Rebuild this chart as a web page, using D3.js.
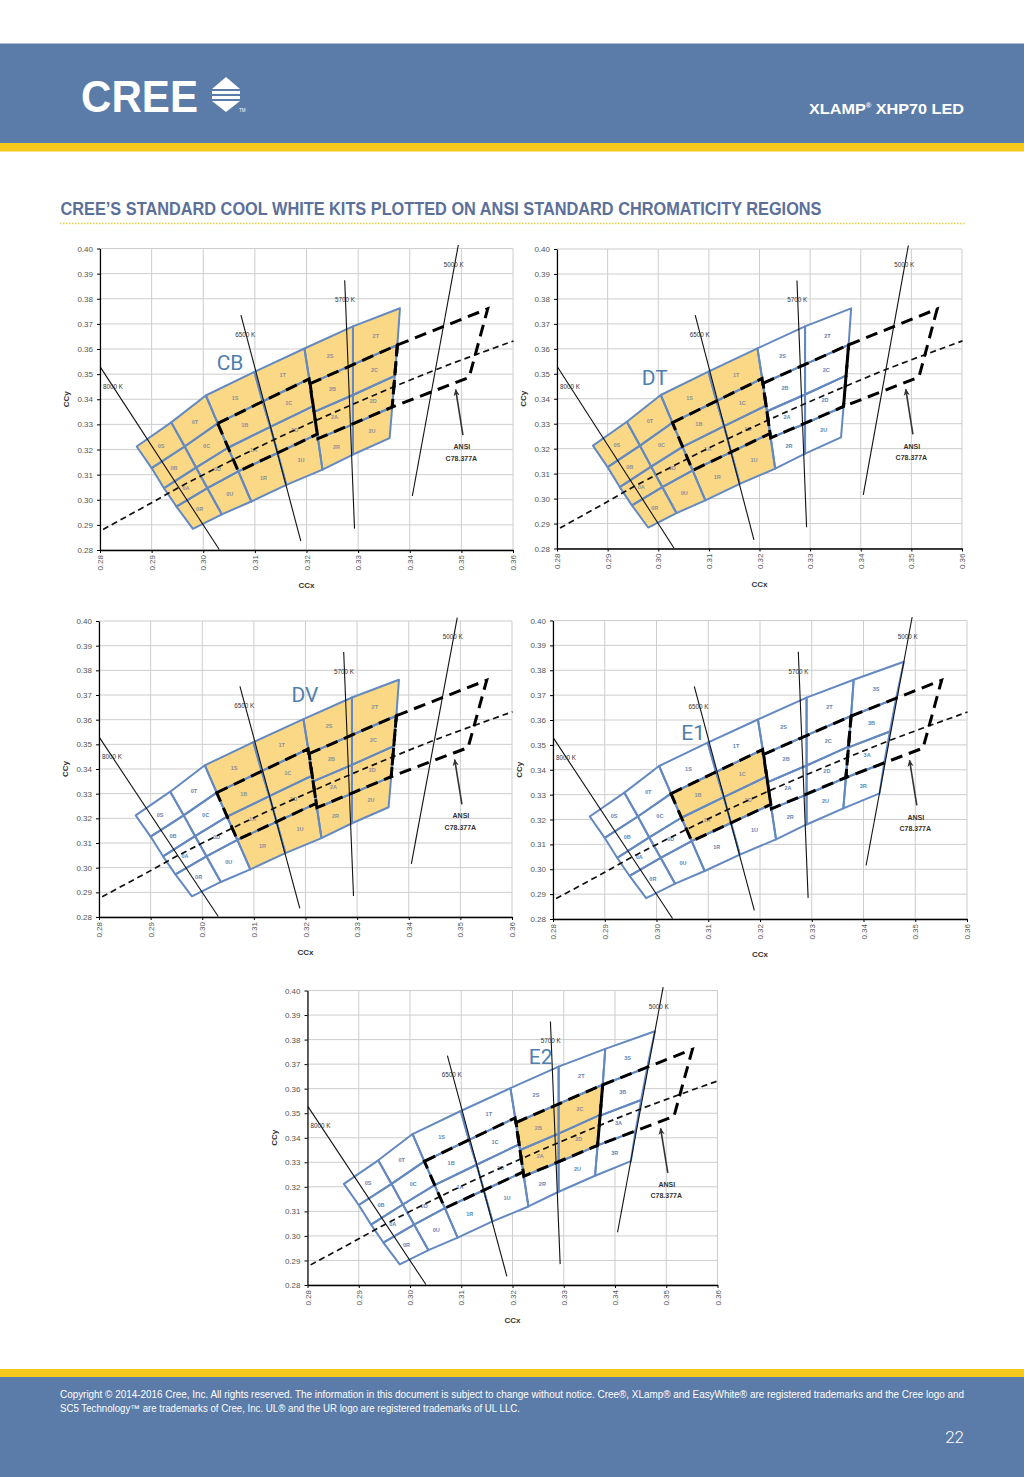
<!DOCTYPE html>
<html><head><meta charset="utf-8">
<script src="https://cdn.jsdelivr.net/npm/d3@7"></script>
<style>body{margin:0;background:#fff}svg{display:block}</style>
</head><body>
<svg id="page" width="1024" height="1477"></svg>
<script>
// ---------------- DATA ----------------
const xTicks = [0.28,0.29,0.30,0.31,0.32,0.33,0.34,0.35,0.36];
const yTicks = [0.28,0.29,0.30,0.31,0.32,0.33,0.34,0.35,0.36,0.37,0.38,0.39,0.40];

const binNames = ["0S","0T","0B","0C","0A","0D","0R","0U",
                  "1S","1T","1B","1C","1A","1D","1R","1U",
                  "2S","2T","2B","2C","2A","2D","2R","2U",
                  "3S","3B","3A","3R"];
const binCorners = [
  [[0.2871,0.3212],[0.2938,0.3308],[0.2964,0.3212],[0.2900,0.3126]],
  [[0.2938,0.3308],[0.3005,0.3415],[0.3028,0.3304],[0.2964,0.3212]],
  [[0.2900,0.3126],[0.2964,0.3212],[0.2986,0.3128],[0.2924,0.3046]],
  [[0.2964,0.3212],[0.3028,0.3304],[0.3048,0.3207],[0.2986,0.3128]],
  [[0.2924,0.3046],[0.2986,0.3128],[0.3008,0.3046],[0.2948,0.2973]],
  [[0.2986,0.3128],[0.3048,0.3207],[0.3068,0.3113],[0.3008,0.3046]],
  [[0.2948,0.2973],[0.3008,0.3046],[0.3036,0.2942],[0.2980,0.2884]],
  [[0.3008,0.3046],[0.3068,0.3113],[0.3093,0.2993],[0.3036,0.2942]],
  [[0.3005,0.3415],[0.3099,0.3509],[0.3115,0.3391],[0.3028,0.3304]],
  [[0.3099,0.3509],[0.3196,0.3602],[0.3205,0.3481],[0.3115,0.3391]],
  [[0.3028,0.3304],[0.3115,0.3391],[0.3130,0.3290],[0.3048,0.3207]],
  [[0.3115,0.3391],[0.3205,0.3481],[0.3213,0.3373],[0.3130,0.3290]],
  [[0.3048,0.3207],[0.3130,0.3290],[0.3144,0.3186],[0.3068,0.3113]],
  [[0.3130,0.3290],[0.3213,0.3373],[0.3221,0.3261],[0.3144,0.3186]],
  [[0.3068,0.3113],[0.3144,0.3186],[0.3161,0.3059],[0.3093,0.2993]],
  [[0.3144,0.3186],[0.3221,0.3261],[0.3231,0.3120],[0.3161,0.3059]],
  [[0.3196,0.3602],[0.3290,0.3690],[0.3290,0.3538],[0.3207,0.3462]],
  [[0.3290,0.3690],[0.3381,0.3762],[0.3376,0.3616],[0.3290,0.3538]],
  [[0.3207,0.3462],[0.3290,0.3538],[0.3290,0.3417],[0.3215,0.3350]],
  [[0.3290,0.3538],[0.3376,0.3616],[0.3371,0.3493],[0.3290,0.3417]],
  [[0.3215,0.3350],[0.3290,0.3417],[0.3290,0.3300],[0.3222,0.3243]],
  [[0.3290,0.3417],[0.3371,0.3493],[0.3366,0.3369],[0.3290,0.3300]],
  [[0.3222,0.3243],[0.3290,0.3300],[0.3290,0.3180],[0.3231,0.3120]],
  [[0.3290,0.3300],[0.3366,0.3369],[0.3361,0.3245],[0.3290,0.3180]],
  [[0.3381,0.3762],[0.3478,0.3834],[0.3463,0.3687],[0.3376,0.3616]],
  [[0.3376,0.3616],[0.3463,0.3687],[0.3451,0.3554],[0.3371,0.3490]],
  [[0.3371,0.3490],[0.3451,0.3554],[0.3440,0.3427],[0.3366,0.3369]],
  [[0.3366,0.3369],[0.3440,0.3427],[0.3431,0.3305],[0.3361,0.3245]]
];

const planckLocus = [[0.2806,0.2882],[0.2900,0.2988],[0.2952,0.3048],[0.3064,0.3166],
  [0.3135,0.3237],[0.3221,0.3318],[0.3325,0.3411],[0.3451,0.3518],[0.3601,0.3632]];

const ansiQuadNames = ["6500 K","5700 K","5000 K"];
const ansiQuads = [
  [[0.3028,0.3304],[0.3205,0.3481],[0.3221,0.3261],[0.3068,0.3113]],
  [[0.3207,0.3462],[0.3376,0.3616],[0.3366,0.3369],[0.3222,0.3243]],
  [[0.3376,0.3616],[0.3551,0.3760],[0.3515,0.3487],[0.3366,0.3369]]
];

const isothermNames = ["8000 K","6500 K","5700 K","5000 K"];
const isothermLines = [
  [[0.2801,0.3527],[0.3031,0.2802]],
  [[0.3073,0.3735],[0.3189,0.2835]],
  [[0.3274,0.3874],[0.3293,0.2885]],
  [[0.3494,0.4014],[0.3405,0.3015]]
];
const isothermLabelAt = [[0.2806,0.3450],[0.3062,0.3656],[0.3255,0.3796],[0.3466,0.3936]];

const ansiArrow = [[0.3503,0.3257],[0.3489,0.3438]];
const ansiLabelLines = ["ANSI","C78.377A"];
const ansiLabelAt = [[0.3501,0.3210],[0.3500,0.3164]];

const kitNames = ["CB","DT","DV","E1","E2"];
const kitLabelAt = [[0.3052,0.3544],[0.2993,0.3485],[0.3199,0.3700],[0.3071,0.3549],[0.3255,0.3731]];
const kitShowsColumn3 = [false,false,false,true,true];
const kitFilledBins = [
  ["0S","0T","0B","0C","0A","0D","0R","0U","1S","1T","1B","1C","1A","1D","1R","1U","2S","2T","2B","2C","2A","2D","2R","2U"],
  ["0S","0T","0B","0C","0A","0D","0R","0U","1S","1T","1B","1C","1A","1D","1R","1U"],
  ["1S","1T","1B","1C","1A","1D","1R","1U","2S","2T","2B","2C","2A","2D","2R","2U"],
  ["1B","1C","1A","1D"],
  ["2B","2C","2A","2D"]
];

// ---------------- LAYOUT / STYLE ----------------
const panels = [
  {l:100,  r:513,  t:248.5, b:550},
  {l:557,  r:962,  t:249,   b:548.5},
  {l:99,   r:512,  t:621,   b:917},
  {l:553,  r:967,  t:620.5, b:919},
  {l:307.5,r:717.5,t:990.5, b:1285}
];
const HEAD_BLUE = "#5b7ba8", HEAD_YELLOW = "#f7c81e";
const BIN_STROKE = "#6389c0", BIN_FILL = "#fad886", KIT_BLUE = "#4f7fae";
const SANS = "'Liberation Sans', Arial, sans-serif";

const svg = d3.select("#page");
svg.append("rect").attr("width",1024).attr("height",1477).attr("fill","#fff");

// ---------------- HEADER ----------------
svg.append("rect").attr("x",0).attr("y",43.5).attr("width",1024).attr("height",100).attr("fill",HEAD_BLUE);
svg.append("rect").attr("x",0).attr("y",143).attr("width",1024).attr("height",8.5).attr("fill",HEAD_YELLOW);
svg.append("text").attr("x",81).attr("y",112).attr("font-family","'Liberation Sans Narrow', 'Liberation Sans', Arial")
  .attr("font-weight","bold").attr("font-size",45).attr("fill","#fff")
  .attr("textLength",117).attr("lengthAdjust","spacingAndGlyphs").text("CREE");
const logo = svg.append("g").attr("fill","#fff");
logo.append("path").attr("d","M212,89 L226,77 L240,89 Z");
logo.append("rect").attr("x",212).attr("y",91).attr("width",28).attr("height",3);
logo.append("rect").attr("x",212).attr("y",96).attr("width",28).attr("height",3);
logo.append("path").attr("d","M212,101 L240,101 L226,112 Z");
logo.append("text").attr("x",239).attr("y",112).attr("font-family",SANS).attr("font-size",4.5).text("TM");

const xl = svg.append("text").attr("x",809).attr("y",113.5).attr("font-family",SANS)
  .attr("font-weight","bold").attr("font-size",15).attr("fill","#fff")
  .attr("textLength",155).attr("lengthAdjust","spacingAndGlyphs");
xl.append("tspan").text("XLAMP");
xl.append("tspan").attr("font-size",7).attr("dy",-6).text("®");
xl.append("tspan").attr("dy",6).text(" XHP70 LED");

svg.append("text").attr("x",60.5).attr("y",215).attr("font-family","'Liberation Sans Narrow', 'Liberation Sans', Arial")
  .attr("font-weight","bold").attr("font-size",18).attr("fill","#5b6f99")
  .attr("textLength",761).attr("lengthAdjust","spacingAndGlyphs")
  .text("CREE\u2019S STANDARD COOL WHITE KITS PLOTTED ON ANSI STANDARD CHROMATICITY REGIONS");
svg.append("line").attr("x1",60).attr("x2",965).attr("y1",223.5).attr("y2",223.5)
  .attr("stroke","#e2d03e").attr("stroke-width",1.5).attr("stroke-dasharray","1.5,1.5");

// ---------------- CHARTS ----------------
const defs = svg.append("defs");
defs.append("marker").attr("id","arrowhead").attr("viewBox","0 -5 10 10").attr("refX",9).attr("refY",0)
  .attr("markerWidth",7).attr("markerHeight",7).attr("markerUnits","userSpaceOnUse").attr("orient","auto")
  .append("path").attr("d","M0,-4.5 L10,0 L0,4.5 L3,0 Z").attr("fill","#333");

function drawPanel(p, k) {
  const x = d3.scaleLinear().domain([0.28,0.36]).range([p.l,p.r]);
  const y = d3.scaleLinear().domain([0.28,0.40]).range([p.b,p.t]);
  const g = svg.append("g");
  const line = d3.line().x(d=>x(d[0])).y(d=>y(d[1]));

  // grid
  g.append("g").selectAll("line").data(xTicks).join("line")
    .attr("x1",d=>x(d)).attr("x2",d=>x(d)).attr("y1",p.t).attr("y2",p.b)
    .attr("stroke","#cdcdcd").attr("stroke-width",1);
  g.append("g").selectAll("line").data(yTicks).join("line")
    .attr("y1",d=>y(d)).attr("y2",d=>y(d)).attr("x1",p.l).attr("x2",p.r)
    .attr("stroke","#cdcdcd").attr("stroke-width",1);

  // bins
  const shown = d3.range(binNames.length).filter(i => kitShowsColumn3[k] || binNames[i][0] !== "3");
  g.append("g").selectAll("path").data(shown).join("path")
    .attr("d", i => line(binCorners[i]) + "Z")
    .attr("fill", i => kitFilledBins[k].includes(binNames[i]) ? BIN_FILL : "#fff");
  g.append("g").selectAll("path").data(shown).join("path")
    .attr("d", i => line(binCorners[i]) + "Z")
    .attr("fill","none").attr("stroke",BIN_STROKE).attr("stroke-width",2).attr("stroke-linejoin","round");
  g.append("g").selectAll("text").data(shown).join("text")
    .attr("x", i => x(d3.mean(binCorners[i], c=>c[0])))
    .attr("y", i => y(d3.mean(binCorners[i], c=>c[1])))
    .attr("text-anchor","middle").attr("dominant-baseline","central")
    .attr("font-family",SANS).attr("font-size",5.5).attr("font-weight","bold")
    .attr("fill", i => kitFilledBins[k].includes(binNames[i]) ? "#8a8f9c" : "#5d86b8")
    .text(i => binNames[i]);

  // isotherms
  g.append("g").selectAll("path").data(isothermLines).join("path")
    .attr("d", d => line(d)).attr("stroke","#111").attr("stroke-width",1.1).attr("fill","none");
  g.append("g").selectAll("text").data(isothermNames).join("text")
    .attr("x",(d,i)=>x(isothermLabelAt[i][0])).attr("y",(d,i)=>y(isothermLabelAt[i][1]))
    .attr("dominant-baseline","central").attr("font-family",SANS).attr("font-size",6.3).attr("fill","#333")
    .text(d=>d);

  // Planckian locus
  g.append("path").attr("d", d3.line().x(d=>x(d[0])).y(d=>y(d[1])).curve(d3.curveCatmullRom)(planckLocus))
    .attr("fill","none").attr("stroke","#111").attr("stroke-width",1.7).attr("stroke-dasharray","6,4");

  // ANSI quadrangles
  g.append("g").selectAll("path").data(ansiQuads).join("path")
    .attr("d", d => line(d) + "Z").attr("fill","none").attr("stroke","#000")
    .attr("stroke-width",3).attr("stroke-dasharray","12,7");

  // arrow and label
  g.append("path").attr("d", line(ansiArrow)).attr("stroke","#333").attr("stroke-width",1.6)
    .attr("fill","none").attr("marker-end","url(#arrowhead)");
  g.append("g").selectAll("text").data(ansiLabelLines).join("text")
    .attr("x",(d,i)=>x(ansiLabelAt[i][0])).attr("y",(d,i)=>y(ansiLabelAt[i][1]))
    .attr("text-anchor","middle").attr("dominant-baseline","central")
    .attr("font-family",SANS).attr("font-size",7).attr("font-weight","bold").attr("fill","#333")
    .text(d=>d);

  // kit name
  g.append("text").attr("x",x(kitLabelAt[k][0])).attr("y",y(kitLabelAt[k][1]))
    .attr("text-anchor","middle").attr("dominant-baseline","central")
    .attr("font-family","Roboto, 'Open Sans', sans-serif").attr("font-size",21).attr("fill",KIT_BLUE)
    .text(kitNames[k]);

  // axes
  const fmt = d3.format(".2f");
  const ax = g.append("g").attr("transform",`translate(${p.l},0)`)
    .call(d3.axisLeft(y).tickValues(yTicks).tickFormat(fmt).tickSize(3).tickSizeOuter(0).tickPadding(4));
  ax.select(".domain").attr("stroke","#000").attr("stroke-width",1.2);
  ax.selectAll("text").attr("font-family",SANS).attr("font-size",8).attr("fill","#555");
  const bx = g.append("g").attr("transform",`translate(0,${p.b})`)
    .call(d3.axisBottom(x).tickValues(xTicks).tickFormat(fmt).tickSize(3).tickSizeOuter(0));
  bx.select(".domain").attr("stroke","#000").attr("stroke-width",1.5);
  bx.selectAll("text").attr("font-family",SANS).attr("font-size",8).attr("fill","#555")
    .attr("transform","rotate(-90)").attr("text-anchor","end").attr("x",-5).attr("y",0).attr("dy","0.32em");

  g.append("text").attr("x",(p.l+p.r)/2).attr("y",p.b+38).attr("text-anchor","middle")
    .attr("font-family",SANS).attr("font-size",8).attr("font-weight","bold").attr("fill","#333").text("CCx");
  g.append("text").attr("transform",`translate(${p.l-31},${(p.t+p.b)/2}) rotate(-90)`).attr("text-anchor","middle")
    .attr("font-family",SANS).attr("font-size",8).attr("font-weight","bold").attr("fill","#333").text("CCy");
}
panels.forEach(drawPanel);

// ---------------- FOOTER ----------------
svg.append("rect").attr("x",0).attr("y",1369).attr("width",1024).attr("height",8).attr("fill",HEAD_YELLOW);
svg.append("rect").attr("x",0).attr("y",1377).attr("width",1024).attr("height",100).attr("fill",HEAD_BLUE);
svg.append("text").attr("x",60).attr("y",1397.8).attr("font-family","'Liberation Sans Narrow', 'Liberation Sans', Arial")
  .attr("font-size",10).attr("fill","#fff").attr("textLength",904).attr("lengthAdjust","spacingAndGlyphs")
  .text("Copyright \u00A9 2014-2016 Cree, Inc. All rights reserved. The information in this document is subject to change without notice. Cree\u00AE, XLamp\u00AE and EasyWhite\u00AE are registered trademarks and the Cree logo and");
svg.append("text").attr("x",60).attr("y",1411.8).attr("font-family","'Liberation Sans Narrow', 'Liberation Sans', Arial")
  .attr("font-size",10).attr("fill","#fff").attr("textLength",460).attr("lengthAdjust","spacingAndGlyphs")
  .text("SC5 Technology\u2122 are trademarks of Cree, Inc. UL\u00AE and the UR logo are registered trademarks of UL LLC.");
svg.append("text").attr("x",964).attr("y",1443).attr("text-anchor","end").attr("font-family","Roboto, sans-serif")
  .attr("font-weight",300).attr("font-size",17).attr("fill","#fff").text("22");
</script>
</body></html>
